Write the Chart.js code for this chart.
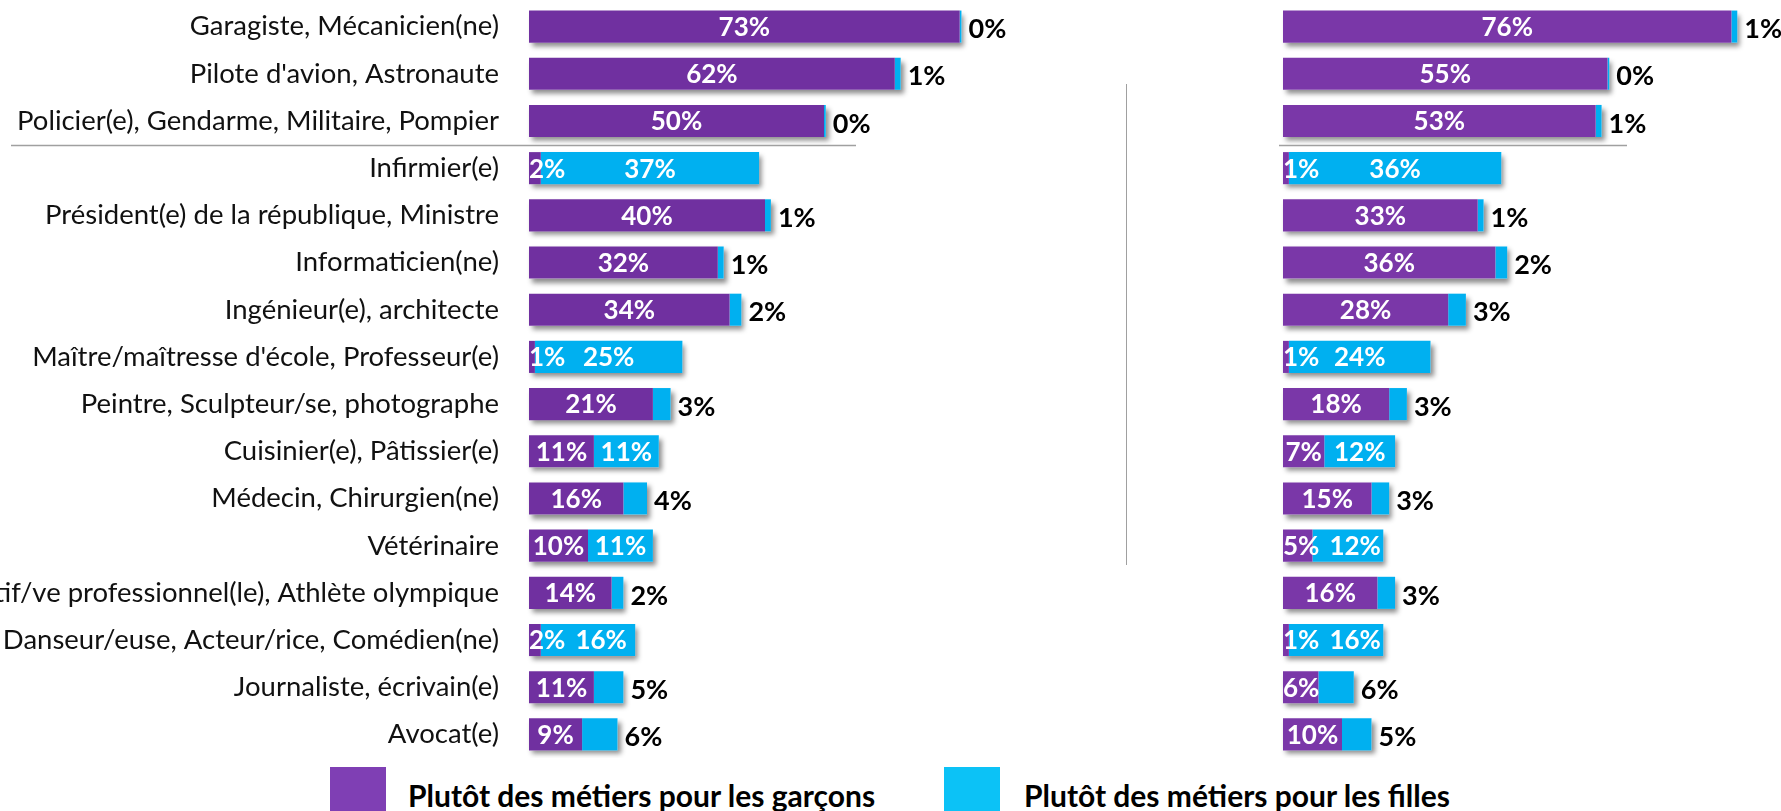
<!DOCTYPE html>
<html><head><meta charset="utf-8">
<script src="https://cdn.jsdelivr.net/npm/chart.js@4.4.0/dist/chart.umd.min.js"></script>
<style>
html,body{margin:0;padding:0;width:1781px;height:811px;overflow:hidden;background:#fff;font-family:Lato,"Open Sans",sans-serif}
#wl{position:absolute;left:0;top:3px;width:1125px;height:755px}
#wr{position:absolute;left:1270px;top:3px;width:511px;height:755px}
#vline{position:absolute;left:1126px;top:84px;width:1px;height:481px;background:#a0a0a0}
.lg-box{position:absolute;top:767px;width:56px;height:56px}
.lg-txt{position:absolute;top:767px;height:56px;line-height:56px;font-weight:bold;font-size:30px;color:#000;white-space:nowrap}
</style></head>
<body>
<div id="wl"><canvas id="cl"></canvas></div>
<div id="vline"></div>
<div id="wr"><canvas id="cr"></canvas></div>
<div id="legend"></div>
<script>
const categories = [
  "Garagiste, Mécanicien(ne)",
  "Pilote d'avion, Astronaute",
  "Policier(e), Gendarme, Militaire, Pompier",
  "Infirmier(e)",
  "Président(e) de la république, Ministre",
  "Informaticien(ne)",
  "Ingénieur(e), architecte",
  "Maître/maîtresse d'école, Professeur(e)",
  "Peintre, Sculpteur/se, photographe",
  "Cuisinier(e), Pâtissier(e)",
  "Médecin, Chirurgien(ne)",
  "Vétérinaire",
  "Sportif/ve professionnel(le), Athlète olympique",
  "Danseur/euse, Acteur/rice, Comédien(ne)",
  "Journaliste, écrivain(e)",
  "Avocat(e)"
];
const seriesNames = ["Plutôt des métiers pour les garçons", "Plutôt des métiers pour les filles"];
const leftBoys   = [73, 62, 50, 2, 40, 32, 34, 1, 21, 11, 16, 10, 14, 2, 11, 9];
const leftGirls  = [0.3, 1, 0.3, 37, 1, 1, 2, 25, 3, 11, 4, 11, 2, 16, 5, 6];
const rightBoys  = [76, 55, 53, 1, 33, 36, 28, 1, 18, 7, 15, 5, 16, 1, 6, 10];
const rightGirls = [1, 0.3, 1, 36, 1, 2, 3, 24, 3, 12, 3, 12, 3, 16, 6, 5];

const FONT = "Lato";
const PX_PER_PCT = 5.9;

const shadowPlugin = {
  id: 'barShadow',
  beforeDatasetsDraw(chart) {
    const ctx = chart.ctx;
    const m0 = chart.getDatasetMeta(0), m1 = chart.getDatasetMeta(1);
    ctx.save();
    ctx.shadowColor = 'rgba(0,0,0,0.45)';
    ctx.shadowBlur = 5;
    ctx.shadowOffsetX = 3;
    ctx.shadowOffsetY = 4;
    ctx.fillStyle = '#fff';
    m0.data.forEach((b0, i) => {
      const b1 = m1.data[i];
      const p0 = b0.getProps(['x','y','base','height'], true);
      const p1 = b1.getProps(['x'], true);
      ctx.fillRect(p0.base, p0.y - p0.height/2, p1.x - p0.base, p0.height);
    });
    ctx.restore();
  }
};

const labelPlugin = {
  id: 'barLabels',
  afterDatasetsDraw(chart) {
    const ctx = chart.ctx;
    const m0 = chart.getDatasetMeta(0), m1 = chart.getDatasetMeta(1);
    const d0 = chart.data.datasets[0].data, d1 = chart.data.datasets[1].data;
    const fIn = "bold 26px " + FONT, fOut = "bold 27px " + FONT;
    ctx.save();
    ctx.textBaseline = 'middle';
    ctx.textAlign = 'left';
    m0.data.forEach((b0, i) => {
      const p0 = b0.getProps(['x','y','base','height'], true);
      const p1 = m1.data[i].getProps(['x','base'], true);
      const t0 = Math.round(d0[i]) + '%';
      const t1 = Math.round(d1[i]) + '%';
      ctx.font = fIn;
      const w0 = ctx.measureText(t0).width;
      const w1 = ctx.measureText(t1).width;
      let x0 = (p0.base + p0.x) / 2 - w0 / 2;
      if (x0 < p0.base) x0 = p0.base;
      ctx.fillStyle = '#fff';
      ctx.fillText(t0, x0, p0.y + 1);
      const end0 = x0 + w0;
      const segW = p1.x - p1.base;
      if (segW >= w1 + 8) {
        let x1 = (p1.base + p1.x) / 2 - w1 / 2;
        if (x1 < end0 + 10) x1 = end0 + 10;
        ctx.fillText(t1, x1, p0.y + 1);
      } else {
        ctx.font = fOut;
        ctx.fillStyle = '#000';
        ctx.fillText(t1, p1.x + 7, p0.y + 3);
      }
    });
    ctx.restore();
  }
};

function sepPlugin(x1, x2) {
  return {
    id: 'sep',
    afterDraw(chart) {
      const ys = chart.scales.y;
      const y = Math.round((ys.getPixelForValue(2) + ys.getPixelForValue(3)) / 2) + 0.5;
      const ctx = chart.ctx;
      ctx.save();
      ctx.strokeStyle = '#a0a0a0';
      ctx.lineWidth = 1.5;
      ctx.beginPath();
      ctx.moveTo(x1, y); ctx.lineTo(x2, y);
      ctx.stroke();
      ctx.restore();
    }
  };
}

function makeChart(id, boys, girls, opts) {
  return new Chart(document.getElementById(id), {
    type: 'bar',
    data: {
      labels: categories,
      datasets: [
        { label: seriesNames[0], data: boys, backgroundColor: opts.purple, barPercentage: 0.68, categoryPercentage: 1 },
        { label: seriesNames[1], data: girls, backgroundColor: '#00b0f0', barPercentage: 0.68, categoryPercentage: 1 }
      ]
    },
    options: {
      indexAxis: 'y',
      responsive: true,
      maintainAspectRatio: false,
      animation: false,
      layout: { padding: opts.padding },
      plugins: { legend: { display: false }, tooltip: { enabled: false } },
      scales: {
        x: { stacked: true, display: false, min: 0, max: opts.max },
        y: {
          stacked: true,
          display: opts.showY,
          grid: { display: false, drawTicks: false },
          border: { display: false },
          ticks: { color: '#111', font: { family: FONT, size: 27.5 }, padding: 30, autoSkip: false },
          afterFit(scale) {
            if (opts.showY) {
              scale.width = opts.yWidth;
              scale.paddingTop = 0;
              scale.paddingBottom = 0;
            }
          }
        }
      }
    },
    plugins: [shadowPlugin, labelPlugin, sepPlugin(opts.sep[0], opts.sep[1])]
  });
}

makeChart('cl', leftBoys, leftGirls, {
  purple: '#7030a0', padding: { left: 0, right: 6, top: 0, bottom: 0 },
  max: 590 / PX_PER_PCT, showY: true, yWidth: 529, sep: [11, 856]
});
makeChart('cr', rightBoys, rightGirls, {
  purple: '#7a37a8', padding: { left: 13, right: 0, top: 0, bottom: 0 },
  max: 498 / PX_PER_PCT, showY: false, yWidth: 0, sep: [9, 357]
});

const lg = document.getElementById('legend');
const lgDef = [
  { name: seriesNames[0], color: '#7f3fb4', box: 330, txt: 408 },
  { name: seriesNames[1], color: '#0cc2f6', box: 944, txt: 1024 }
];
lgDef.forEach(d => {
  const b = document.createElement('div');
  b.className = 'lg-box'; b.style.left = d.box + 'px'; b.style.background = d.color;
  const t = document.createElement('div');
  t.className = 'lg-txt'; t.style.left = d.txt + 'px'; t.textContent = d.name;
  lg.appendChild(b); lg.appendChild(t);
});
</script>
</body></html>
